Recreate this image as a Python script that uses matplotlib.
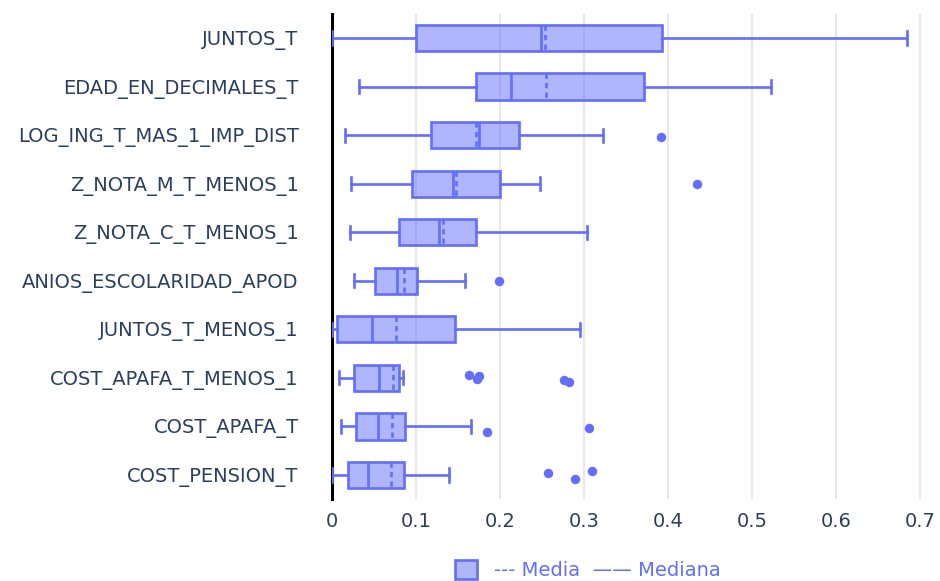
import numpy as np
import matplotlib
matplotlib.use("Agg")
import matplotlib.pyplot as plt
from matplotlib.patches import Patch

# variables, top to bottom
variables = ["JUNTOS_T", "EDAD_EN_DECIMALES_T", "LOG_ING_T_MAS_1_IMP_DIST",
             "Z_NOTA_M_T_MENOS_1", "Z_NOTA_C_T_MENOS_1", "ANIOS_ESCOLARIDAD_APOD",
             "JUNTOS_T_MENOS_1", "COST_APAFA_T_MENOS_1", "COST_APAFA_T",
             "COST_PENSION_T"]

whis_lo = [0.0, 0.0325, 0.016, 0.0226, 0.0214, 0.0266, 0.0, 0.008, 0.0103, 0.0]
q1      = [0.0996, 0.171, 0.118, 0.0956, 0.0794, 0.0512, 0.0055, 0.0258, 0.0286, 0.0194]
medians = [0.249, 0.213, 0.175, 0.144, 0.127, 0.0778, 0.048, 0.0556, 0.0552, 0.0425]
means   = [0.254, 0.255, 0.171, 0.148, 0.1325, 0.086, 0.076, 0.072, 0.071, 0.070]
q3      = [0.393, 0.371, 0.223, 0.200, 0.171, 0.1008, 0.146, 0.0798, 0.0865, 0.086]
whis_hi = [0.684, 0.523, 0.323, 0.247, 0.3036, 0.158, 0.2956, 0.084, 0.166, 0.139]
outliers = [[], [], [0.392], [0.434], [], [0.199], [],
            [0.1635, 0.172, 0.175, 0.2766, 0.2825],
            [0.184, 0.306],
            [0.2567, 0.289, 0.310]]
# small vertical jitter of the outlier dots (in category units)
jitter = [[], [], [0.03], [0.0], [], [0.01], [],
          [-0.07, 0.02, -0.03, 0.04, 0.09],
          [0.11, 0.04],
          [-0.05, 0.08, -0.09]]

blue = "#636EFA"
fill = (99 / 255, 110 / 255, 250 / 255, 0.5)
text_col = "#2a3f5f"
plt.rcParams["font.family"] = ["DejaVu Sans"]

fig = plt.figure(figsize=(9.4, 5.81), dpi=100)
ax = fig.add_axes([332 / 940, 1 - 499.3 / 581, 605 / 940, 485.6 / 581])

stats = []
for i, name in enumerate(variables):
    stats.append(dict(label=name, whislo=whis_lo[i], q1=q1[i], med=medians[i],
                      q3=q3[i], whishi=whis_hi[i], mean=means[i], fliers=[]))

lw = 1.9
pos = np.arange(len(variables))
ax.bxp(stats, positions=pos, orientation="horizontal", widths=0.54,
       patch_artist=True, showmeans=True, meanline=True, showfliers=False,
       boxprops=dict(facecolor=fill, edgecolor=blue, linewidth=lw),
       medianprops=dict(color=blue, linewidth=lw),
       meanprops=dict(color=blue, linewidth=lw, linestyle=(0, (2, 1.6))),
       whiskerprops=dict(color=blue, linewidth=lw),
       capprops=dict(color=blue, linewidth=lw), capwidths=0.27,
       zorder=3)

for i, pts in enumerate(outliers):
    for v, dy in zip(pts, jitter[i]):
        ax.plot(v, pos[i] + dy, "o", color=blue, markersize=6.8,
                markeredgewidth=0, zorder=4)

ax.axvline(0, color="black", linewidth=2.2, zorder=2, clip_on=False)

ax.set_xlim(0, 0.72)
ax.set_ylim(len(variables) - 0.5, -0.5)
ax.set_xticks(np.arange(0, 0.71, 0.1))
ax.set_xticklabels(["0"] + [f"{t:.1f}" for t in np.arange(0.1, 0.71, 0.1)])
ax.xaxis.grid(True, color="#e3e3e3", linewidth=1.2, zorder=0)
ax.set_axisbelow(True)
for s in ax.spines.values():
    s.set_visible(False)
ax.tick_params(axis="y", length=0, pad=24, labelsize=14, labelcolor=text_col)
ax.tick_params(axis="x", length=0, pad=9, labelsize=14, labelcolor=text_col)

handle = Patch(facecolor=fill, edgecolor=blue, linewidth=lw)
fig.legend([handle], ["--- Media  —— Mediana"], loc="center",
           bbox_to_anchor=(588 / 940, 1 - 570 / 581), frameon=False,
           handlelength=1.1, handleheight=1.1, handletextpad=0.9,
           fontsize=14, labelcolor=blue)

fig.savefig("out.png", dpi=100)
